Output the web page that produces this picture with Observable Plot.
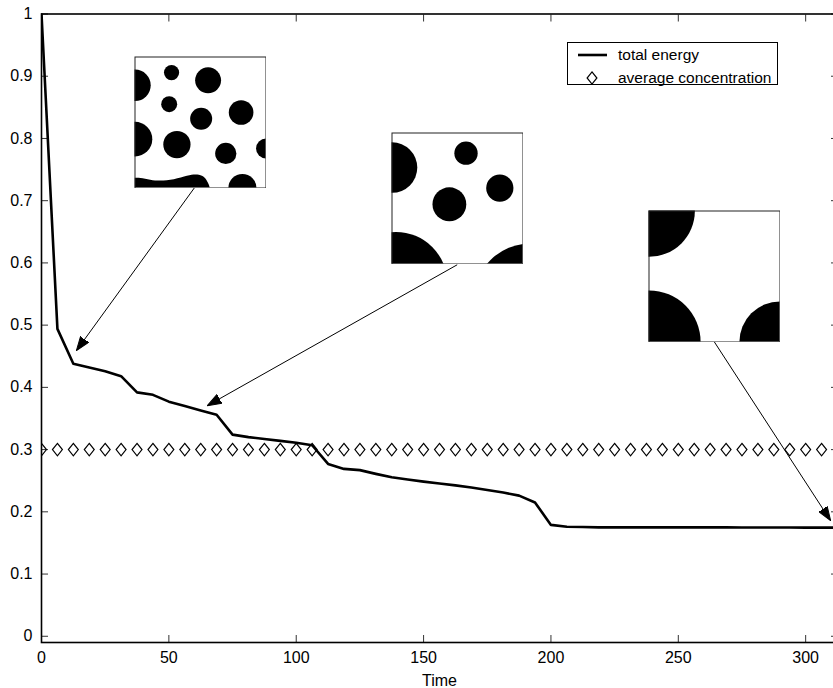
<!DOCTYPE html>
<html><head><meta charset="utf-8">
<script src="https://cdn.jsdelivr.net/npm/d3@7"></script>
<script src="https://cdn.jsdelivr.net/npm/@observablehq/plot@0.6"></script>
<style>
html,body{margin:0;padding:0;background:#fff;overflow:hidden;}
#wrap{position:relative;width:833px;height:688px;overflow:hidden;font-family:"Liberation Sans",Arial,sans-serif;}
#wrap > svg{position:absolute;left:0;top:0;max-width:none !important;}
#legend{position:absolute;left:567px;top:42px;width:211px;height:43px;border:1px solid #000;background:#fff;box-sizing:border-box;}
</style></head><body><div id="wrap"></div>
<script>
// ---- data ----
const times = [0, 6.25, 12.5, 18.75, 25, 31.25, 37.5, 43.75, 50, 56.25, 62.5, 68.75, 75, 81.25, 87.5, 93.75,
  100, 106.25, 112.5, 118.75, 125, 131.25, 137.5, 143.75, 150, 156.25, 162.5, 168.75, 175, 181.25, 187.5, 193.75,
  200, 206.25, 212.5, 218.75, 225, 231.25, 237.5, 243.75, 250, 256.25, 262.5, 268.75, 275, 281.25, 287.5, 293.75,
  300, 306.25, 312.5];
const totalEnergy = [1.0, 0.494, 0.438, 0.432, 0.426, 0.418, 0.392, 0.388, 0.377, 0.370, 0.363, 0.356, 0.324, 0.320, 0.317, 0.314,
  0.311, 0.307, 0.277, 0.269, 0.267, 0.261, 0.2555, 0.252, 0.2485, 0.2455, 0.2425, 0.239, 0.235, 0.231, 0.226, 0.215,
  0.179, 0.176, 0.1755, 0.175, 0.175, 0.175, 0.175, 0.175, 0.175, 0.175, 0.175, 0.175, 0.1748, 0.1748, 0.1747, 0.1747,
  0.1746, 0.1746, 0.1745];
const concTimes = [0, 6.25, 12.5, 18.75, 25, 31.25, 37.5, 43.75, 50, 56.25, 62.5, 68.75, 75, 81.25, 87.5, 93.75,
  100, 106.25, 112.5, 118.75, 125, 131.25, 137.5, 143.75, 150, 156.25, 162.5, 168.75, 175, 181.25, 187.5, 193.75,
  200, 206.25, 212.5, 218.75, 225, 231.25, 237.5, 243.75, 250, 256.25, 262.5, 268.75, 275, 281.25, 287.5, 293.75,
  300, 306.25];
const avgConcentration = [0.3, 0.3, 0.3, 0.3, 0.3, 0.3, 0.3, 0.3, 0.3, 0.3, 0.3, 0.3, 0.3, 0.3, 0.3, 0.3,
  0.3, 0.3, 0.3, 0.3, 0.3, 0.3, 0.3, 0.3, 0.3, 0.3, 0.3, 0.3, 0.3, 0.3, 0.3, 0.3,
  0.3, 0.3, 0.3, 0.3, 0.3, 0.3, 0.3, 0.3, 0.3, 0.3, 0.3, 0.3, 0.3, 0.3, 0.3, 0.3,
  0.3, 0.3];
const xTicks = [0, 50, 100, 150, 200, 250, 300];
const yTicks = [0, 0.1, 0.2, 0.3, 0.4, 0.5, 0.6, 0.7, 0.8, 0.9, 1];
const seriesLabels = ["total energy", "average concentration"];
const xLabel = "Time";

// annotation arrows (data coordinates): from inset to curve
const arrowFromT = [60.2, 163.2, 264];
const arrowFromE = [0.7216, 0.597, 0.474];
const arrowToT = [13.7, 65.1, 309.8];
const arrowToE = [0.459, 0.3706, 0.1857];

// inset microstructures (relative coordinates in the unit square, y downwards)
const inset1CX = [0, 0.279, 0.558, 0.261, 0.505, 0.81, 0, 0.32, 0.693, 1.0, 0.82];
const inset1CY = [0.216, 0.119, 0.178, 0.36, 0.472, 0.424, 0.627, 0.668, 0.736, 0.698, 1.0];
const inset1R  = [0.12, 0.058, 0.099, 0.061, 0.084, 0.094, 0.132, 0.104, 0.081, 0.076, 0.107];
const inset1BandX = [0, 0.046, 0.12, 0.198, 0.3, 0.40, 0.464, 0.515, 0.548, 0.566, 0.574];
const inset1BandY = [0.926, 0.927, 0.94, 0.947, 0.937, 0.911, 0.90, 0.91, 0.94, 0.975, 1.0];
const inset2CX = [0, 0.565, 0.823, 0.438, 0.03, 1.056];
const inset2CY = [0.264, 0.154, 0.42, 0.544, 1.147, 1.273];
const inset2R  = [0.193, 0.089, 0.104, 0.129, 0.392, 0.43];
const inset3CX = [0, 0, 1];
const inset3CY = [0, 1, 1];
const inset3R  = [0.35, 0.394, 0.31];

// ---- build ----
const FONT = '"Liberation Sans", Arial, sans-serif';
const energyRows = times.map((t, i) => ({t, e: totalEnergy[i]}));
const concRows = concTimes.map((t, i) => ({t, c: avgConcentration[i]}));
const arrows = arrowFromT.map((t, i) => ({x1: t, y1: arrowFromE[i], x2: arrowToT[i], y2: arrowToE[i]}));

const diamond = {
  draw(ctx, size) {
    const r = Math.sqrt(size / Math.PI);
    ctx.moveTo(0, -r); ctx.lineTo(0.8 * r, 0); ctx.lineTo(0, r); ctx.lineTo(-0.8 * r, 0); ctx.closePath();
  }
};

function filledArrow(color) {
  const m = d3.create("svg:marker")
    .attr("viewBox", "-14 -5.5 15 11")
    .attr("markerWidth", 15).attr("markerHeight", 11)
    .attr("markerUnits", "userSpaceOnUse")
    .attr("orient", "auto").attr("refX", 0).attr("refY", 0);
  m.append("path").attr("d", "M-14,-5L0,0L-14,5Z").attr("fill", "black");
  return m.node();
}

const main = Plot.plot({
  width: 840, height: 688,
  marginTop: 13.5, marginBottom: 46, marginLeft: 41, marginRight: 3,
  style: {fontFamily: FONT, fontSize: "16px", color: "#000", background: "white", overflow: "visible", maxWidth: "none"},
  x: {domain: [0, 312.5]},
  y: {domain: [-0.01, 1]},
  marks: [
    Plot.axisX(xTicks, {anchor: "bottom", tickSize: -7, stroke: "#333", label: xLabel, labelAnchor: "center", labelArrow: "none", labelOffset: 43, fill: "#000", fontSize: 16}),
    Plot.axisX(xTicks, {anchor: "top", tickSize: -7, stroke: "#333", tickFormat: () => "", label: null}),
    Plot.axisY(yTicks, {anchor: "left", tickSize: -7, stroke: "#333", tickFormat: d => String(d), label: null, fill: "#000", fontSize: 16}),
    Plot.axisY(yTicks, {anchor: "right", tickSize: -7, stroke: "#333", tickFormat: () => "", label: null}),
    Plot.dot(concRows, {x: "t", y: "c", symbol: diamond, r: 6.2, stroke: "black", fill: "none", strokeWidth: 1.2, clip: true}),
    Plot.line(energyRows, {x: "t", y: "e", stroke: "black", strokeWidth: 2.6, clip: true}),
    Plot.link(arrows, {x1: "x1", y1: "y1", x2: "x2", y2: "y2", stroke: "black", strokeWidth: 1, markerEnd: filledArrow}),
    Plot.frame({stroke: "black", strokeWidth: 1.6})
  ]
});
const wrap = document.getElementById("wrap");
wrap.appendChild(main);

function makeInset(cx, cy, rr, extra, left, top) {
  const S = 132;
  const rows = cx.map((x, i) => ({x, y: cy[i], r: rr[i]}));
  const p = Plot.plot({
    width: S, height: S, margin: 0.5,
    style: {background: "white", maxWidth: "none"},
    x: {domain: [0, 1], axis: null},
    y: {domain: [1, 0], axis: null},
    r: {type: "linear", domain: [0, 1], range: [0, S - 1]},
    marks: [
      Plot.dot(rows, {x: "x", y: "y", r: "r", fill: "black", stroke: "none", clip: true}),
      ...extra,
      Plot.frame({stroke: "#222", strokeWidth: 1})
    ]
  });
  p.style.position = "absolute";
  p.style.left = left + "px";
  p.style.top = top + "px";
  wrap.appendChild(p);
}

const bandRows = inset1BandX.map((x, i) => ({x, y: inset1BandY[i]}));
makeInset(inset1CX, inset1CY, inset1R,
  [Plot.areaY(bandRows, {x: "x", y1: 1, y2: "y", fill: "black", curve: "natural", clip: true})], 134, 55.5);
makeInset(inset2CX, inset2CY, inset2R, [], 391, 132);
makeInset(inset3CX, inset3CY, inset3R, [], 648, 209.5);

// legend
const lg = document.createElement("div");
lg.id = "legend";
const ls = d3.create("svg").attr("width", 211).attr("height", 43).style("display", "block");
ls.append("line").attr("x1", 10).attr("x2", 39).attr("y1", 12).attr("y2", 12).attr("stroke", "black").attr("stroke-width", 2.6);
ls.append("path").attr("d", "M24,28.9L28.9,35L24,41.1L19.1,35Z").attr("fill", "none").attr("stroke", "black").attr("stroke-width", 1.2);
ls.selectAll("text").data(seriesLabels).join("text")
  .attr("x", 50).attr("y", (d, i) => i ? 35 : 12).attr("dy", "0.35em")
  .attr("font-family", FONT).attr("font-size", "15.5px").text(d => d);
lg.appendChild(ls.node());
wrap.appendChild(lg);
</script></body></html>
